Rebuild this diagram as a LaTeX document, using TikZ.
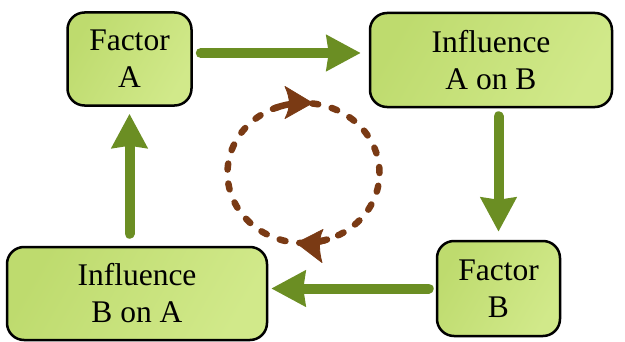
\documentclass[tikz,border=0pt]{standalone}
\usepackage{fontspec}
\setmainfont{Liberation Serif}
\usetikzlibrary{arrows.meta}
\definecolor{garrow}{RGB}{107,142,35}
\definecolor{gboxA}{RGB}{190,219,110}
\definecolor{gboxB}{RGB}{209,233,138}
\definecolor{brn}{RGB}{122,58,20}
\begin{document}
\begin{tikzpicture}[x=1pt,y=1pt,
  box/.style={draw=black, line width=2.5pt, rounded corners=17pt,
    left color=gboxA, right color=gboxB, shading angle=60,
    align=center, inner sep=0pt, font=\fontsize{31.5}{37}\selectfont},
  garr/.style={draw=garrow, line width=10pt, line cap=round,
    -{Triangle[length=34pt,width=35pt,inset=2pt]}},
  cyc/.style={draw=brn, line width=6.5pt, line cap=round},
  cychead/.style={fill=brn, draw=brn, line width=0.8pt, line join=round}]
\useasboundingbox (0,0) rectangle (625,341);
\node[box, minimum width=124pt, minimum height=93pt] (FA) at (129.5,282) {Factor\\A};
\node[box, minimum width=242pt, minimum height=94pt] (IAB) at (491,281) {Influence\\A on B};
\node[box, minimum width=123pt, minimum height=95pt] (FB) at (498.5,52.5) {Factor\\B};
\node[box, minimum width=260pt, minimum height=93pt] (IBA) at (137,47.5) {Influence\\B on A};
\draw[garr, shorten <=8pt, shorten >=8pt] ([yshift=6pt]FA.east) -- ([yshift=7pt]IAB.west);
\draw[garr, shorten <=8pt, shorten >=8pt] (FB.north |- IAB.south) -- (FB.north);
\draw[garr, shorten <=7pt, shorten >=3pt] (FB.west) -- (IBA.east |- FB.west);
\draw[garr, shorten <=12pt, shorten >=7pt] (FA.south |- IBA.north) -- (FA.south);
\coordinate (C) at (303.5,168);
\draw[cyc, dash pattern=on 6pt off 14pt] (C) ellipse[x radius=76, y radius=70];
% solid strokes behind the arrowheads
\draw[cyc] ([shift={(112:76 and 70)}]C) arc[start angle=112, end angle=95, x radius=76, y radius=70];
\draw[cyc] ([shift={(288:76 and 70)}]C) arc[start angle=288, end angle=276, x radius=76, y radius=70];
% top arrowhead (clockwise, pointing right)
\fill[cychead] (312.5,238) -- (285,254.5) .. controls (288,248) and (289,243) .. (289.5,238)
  .. controls (289,233) and (288,228) .. (285,222.5) -- cycle;
% bottom arrowhead (clockwise, pointing left)
\fill[cychead] (296.5,98) -- (323,111.5) .. controls (320,106) and (319.5,100) .. (319.5,95)
  .. controls (319.5,89) and (320.5,84) .. (322,78.5) -- cycle;
\end{tikzpicture}
\end{document}
